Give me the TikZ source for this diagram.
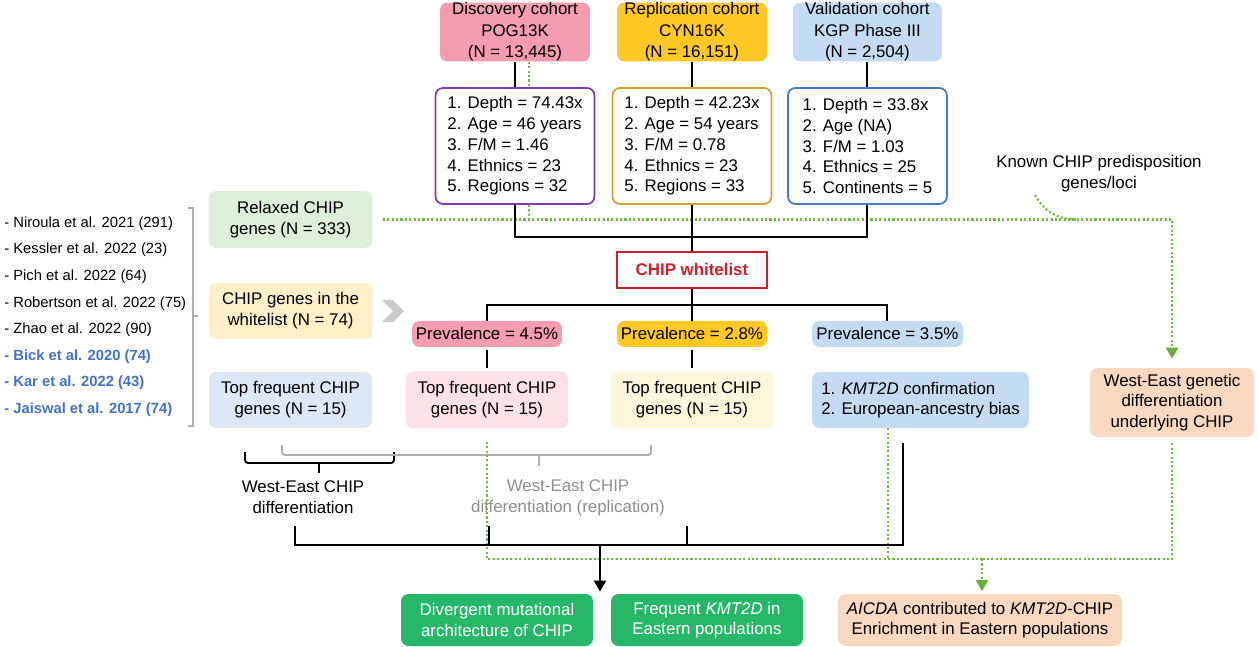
\documentclass[tikz,border=0pt]{standalone}
\usepackage{fontspec}
\setmainfont{Liberation Sans}
\usepackage{tikz}
\usetikzlibrary{arrows.meta, positioning}

\definecolor{pinkA}{HTML}{F49CB0}
\definecolor{yellowA}{HTML}{FFC825}
\definecolor{blueA}{HTML}{C5DBF1}
\definecolor{purpleB}{HTML}{7D3CB5}
\definecolor{goldB}{HTML}{D4A22A}
\definecolor{blueB}{HTML}{4879CF}
\definecolor{redW}{HTML}{D01F2A}
\definecolor{pinkL}{HTML}{FCE1E8}
\definecolor{yellowL}{HTML}{FFF6DE}
\definecolor{blueL}{HTML}{DCE8F6}
\definecolor{greenL}{HTML}{DDEFD9}
\definecolor{yellowW}{HTML}{FFF0C9}
\definecolor{peach}{HTML}{F9D8C2}
\definecolor{greenD}{HTML}{27B769}
\definecolor{dotgreen}{HTML}{74B944}
\definecolor{arrgreen}{HTML}{6AAE3C}
\definecolor{refblue}{HTML}{4472C4}
\definecolor{braceGray}{HTML}{AFAFAF}
\definecolor{textGray}{HTML}{8E8E8E}
\definecolor{chevGray}{HTML}{CBCBCB}

\newcommand{\figfont}{\fontsize{9.6}{11.8}\selectfont}

\begin{document}
\begin{tikzpicture}[
            x = 0.02cm,
            y = -0.02cm,
            > = {Triangle[width=0.24cm, length=0.22cm]},
            on grid,
            box/.style = {rounded corners=0.15cm, inner sep=0pt, align=center, font=\figfont},
            cohort/.style = {box, font=\fontsize{9.6}{12.3}\selectfont, minimum width=3cm, minimum height=1.18cm},
            statbox/.style = {box, fill=white, line width=1pt, minimum width=3.18cm, minimum height=2.32cm},
            conn/.style = {line width=1.1pt, black},
            gdot/.style = {line width=1.2pt, draw=dotgreen, dash pattern=on 1.2pt off 1.3pt},
            garrow/.style = {gdot, -{Triangle[width=0.24cm, length=0.22cm, color=arrgreen, fill=arrgreen]}}
        ]
        \useasboundingbox (0,0) rectangle (1258,646);

        % cohorts
        \node[cohort, fill=pinkA] (disc) at (515,32) {Discovery cohort\\POG13K\\(N = 13,445)};
        \node[cohort, fill=yellowA, right=3.54cm of disc] (repl) {Replication cohort\\CYN16K\\(N = 16,151)};
        \node[cohort, fill=blueA, minimum width=2.98cm, right=3.51cm of repl] (vali) {Validation cohort\\KGP Phase III\\(N = 2,504)};

        \node[statbox, draw=purpleB, align=left, below=2.28cm of disc] (discstat) {1. Depth = 74.43x\\2. Age = 46 years\\3. F/M = 1.46\\4. Ethnics = 23\\5. Regions = 32};
        \node[statbox, draw=goldB, align=left, below=2.28cm of repl] (replstat) {1. Depth = 42.23x\\2. Age = 54 years\\3. F/M = 0.78\\4. Ethnics = 23\\5. Regions = 33};
        \node[statbox, draw=blueB, align=left, below=2.28cm of vali] (valistat) {1. Depth = 33.8x\\2. Age (NA)\\3. F/M = 1.03\\4. Ethnics = 25\\5. Continents = 5};

        % whitelist and prevalence
        \node[draw=redW, line width=0.8pt, inner sep=0pt, minimum width=3cm, minimum height=0.72cm, text=redW, font=\figfont\bfseries, below=2.48cm of replstat] (white) {CHIP whitelist};
        \node[box, fill=yellowA, minimum width=3cm, minimum height=0.52cm, below=1.28cm of white] (prev2) {Prevalence = 2.8\%};
        \node[box, fill=pinkA, minimum width=3cm, minimum height=0.52cm, left=4.1cm of prev2] (prev1) {Prevalence = 4.5\%};
        \node[box, fill=blueA, minimum width=3.02cm, minimum height=0.52cm, right=3.91cm of prev2] (prev3) {Prevalence = 3.5\%};

        \node[box, fill=pinkL, minimum width=3.24cm, minimum height=1.14cm, below=1.32cm of prev1] (top2) {Top frequent CHIP\\genes (N = 15)};
        \node[box, fill=yellowL, minimum width=3.26cm, minimum height=1.14cm, below=1.32cm of prev2] (top3) {Top frequent CHIP\\genes (N = 15)};
        \node[box, fill=blueA, align=left, minimum width=4.34cm, minimum height=1.12cm] (kmt) at (920.5,400) {1. \textit{KMT2D} confirmation\\2. European-ancestry bias};
        \node[box, fill=blueL, minimum width=3.26cm, minimum height=1.12cm, left=3.93cm of top2] (top1) {Top frequent CHIP\\genes (N = 15)};
        \node[box, fill=yellowW, minimum width=3.28cm, minimum height=1.12cm, above=1.78cm of top1] (wlgenes) {CHIP genes in the\\whitelist (N = 74)};
        \node[box, fill=greenL, minimum width=3.28cm, minimum height=1.14cm, above=1.83cm of wlgenes] (relaxed) {Relaxed CHIP\\genes (N = 333)};

        \node[box, fill=peach, minimum width=3.28cm, minimum height=1.38cm] (westeast) at (1172,402.5) {West-East genetic\\differentiation\\underlying CHIP};
        \node[font=\figfont, align=center] (known) at (1099,174) {Known CHIP predisposition\\genes/loci};

        % outcomes
        \node[box, fill=greenD, text=white, minimum width=3.84cm, minimum height=1.04cm] (green1) at (497,620) {Divergent mutational\\architecture of CHIP};
        \node[box, fill=greenD, text=white, minimum width=3.84cm, minimum height=1.04cm, right=4.2cm of green1] (green2) {Frequent \textit{KMT2D} in\\Eastern populations};
        \node[box, fill=peach, minimum width=5.68cm, minimum height=1.04cm] (aicda) at (980,620) {\textit{AICDA} contributed to \textit{KMT2D}-CHIP\\Enrichment in Eastern populations};

        % gene lists
        \node[anchor=west, align=left, inner sep=0pt, font=\fontsize{8.4}{15.15}\selectfont] (refs) at (4,316.5) {- Niroula et al. 2021 (291)\\- Kessler et al. 2022 (23)\\- Pich et al. 2022 (64)\\- Robertson et al. 2022 (75)\\- Zhao et al. 2022 (90)\\\textcolor{refblue}{\textbf{- Bick et al. 2020 (74)}}\\\textcolor{refblue}{\textbf{- Kar et al. 2022 (43)}}\\\textcolor{refblue}{\textbf{- Jaiswal et al. 2017 (74)}}};
        \draw[braceGray, line width=1pt] (188,208) -- (193,208) -- (193,426) -- (188,426);
        \draw[braceGray, line width=1pt] (193,316) -- (198,316);
        \fill[chevGray] (382,300) -- (393,300) -- (404,311) -- (393,322) -- (382,322) -- (393,311) -- cycle;

        % differentiation labels
        \node[font=\figfont, align=center] (wediff) at (303,497.5) {West-East CHIP\\differentiation};
        \node[font=\figfont, align=center, text=textGray] (wediffrep) at (568,497.5) {West-East CHIP\\differentiation (replication)};
        \draw[conn, rounded corners=0.06cm] (245,452) -- (245,463) -- (394,463) -- (394,452);
        \draw[conn] (319,463) -- (319,473);
        \draw[braceGray, line width=1.1pt, rounded corners=0.06cm] (282,445) -- (282,455) -- (651,455) -- (651,445);
        \draw[braceGray, line width=1.1pt] (539,455) -- (539,466);

        % green dotted links
        \draw[gdot] ([xshift=0.28cm]disc.south) -- ([xshift=0.28cm]discstat.north);
        \draw[gdot] ([xshift=0.28cm]discstat.south) -- (529,219);
        \draw[garrow, shorten <=0.2cm, shorten >=0.18cm] (relaxed.east) -- (westeast.north |- relaxed.east) -- (westeast.north);
        \coordinate (kc) at (1035,195);
        \draw[gdot] (kc) .. controls (1045,213) and (1058,219) .. (1076,219);
        \coordinate (gjoin) at (982,559);
        \draw[gdot, shorten <=0.26cm] (top2.south) |- (gjoin);
        \draw[gdot, shorten <=0.12cm] (westeast.south) |- (gjoin);
        \draw[gdot] ([xshift=-0.65cm]kmt.south) -- ++(0,131);
        \draw[garrow, shorten >=0.05cm] (gjoin) -- (aicda.north -| gjoin);

        % black flow
        \coordinate (mrg) at (692,237);
        \draw[conn] (disc) -- (discstat);
        \draw[conn] (repl) -- (replstat);
        \draw[conn] (vali) -- (valistat);
        \draw[conn] (discstat.south) |- (mrg) -| (valistat.south);
        \draw[conn] (replstat.south) -- (white.north);
        \coordinate (spl) at (692,305);
        \draw[conn] (prev1.north) |- (spl) -| (prev3.north);
        \draw[conn] (white.south) -- (prev2.north);
        \draw[conn, shorten <=0.06cm, shorten >=0.06cm] (prev1) -- (top2);
        \draw[conn, shorten <=0.06cm, shorten >=0.06cm] (prev2) -- (top3);

        \coordinate (jn) at (600,545);
        \draw[conn] (295,526) |- (jn);
        \draw[conn] ([xshift=-0.35cm, yshift=-0.3cm]kmt.south) |- (jn);
        \draw[conn] (489,526) -- (489,545);
        \draw[conn] (687,526) -- (687,545);
        \draw[conn, ->, shorten >=0.04cm] (jn) -- (green1.north -| jn);
    \end{tikzpicture}
\end{document}
